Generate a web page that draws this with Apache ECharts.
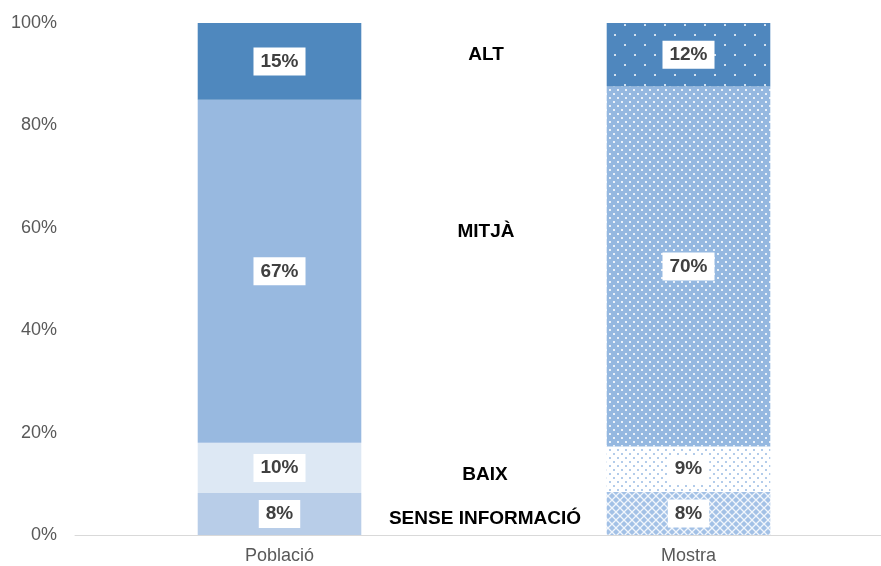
<!DOCTYPE html>
<html>
<head>
<meta charset="utf-8">
<script src="https://cdn.jsdelivr.net/npm/echarts@6/dist/echarts.min.js"></script>
<style>
  html, body { margin: 0; padding: 0; background: #fff; overflow: hidden; }
  /* plot area runs a little past the right edge, like the reference */
  #chart { width: 893px; height: 566px; }
</style>
</head>
<body>
<div id="chart"></div>
<script>
  // data (percent)
  var categories = ['Població', 'Mostra'];
  var senseInfo = [8.2, 8.4];
  var baix = [9.8, 8.9];
  var mitja = [67.0, 70.3];
  var alt = [15.0, 12.4];
  var seriesNames = ['SENSE INFORMACIÓ', 'BAIX', 'MITJÀ', 'ALT'];
  var yTicks = [0, 20, 40, 60, 80, 100];

  var FONT = 'Arial, "Liberation Sans", sans-serif';

  // small canvas tiles for the patterned "Mostra" bars
  function tile(size, bg, draw) {
    var c = document.createElement('canvas');
    c.width = size; c.height = size;
    var ctx = c.getContext('2d');
    ctx.fillStyle = bg;
    ctx.fillRect(0, 0, size, size);
    draw(ctx);
    return { image: c, repeat: 'repeat' };
  }
  function dots(color, pts, s) {
    return function (ctx) {
      ctx.fillStyle = color;
      pts.forEach(function (p) { ctx.fillRect(p[0], p[1], s, s); });
    };
  }

  var patAlt = tile(20, '#4F87BE', dots('rgba(255,255,255,0.75)', [[4, 4], [14, 14]], 2));
  var patMitja = tile(8, '#95B8E0', dots('rgba(255,255,255,0.8)', [[1, 1], [5, 5]], 2));
  var patBaix = tile(8, '#ffffff', dots('#B3CCEA', [[1, 1], [5, 5]], 2));
  var patSense = tile(8, '#A3C1E6', function (ctx) {
    ctx.strokeStyle = 'rgba(255,255,255,0.85)';
    ctx.lineWidth = 1.3;
    ctx.beginPath();
    ctx.moveTo(0, 0); ctx.lineTo(8, 8);
    ctx.moveTo(8, 0); ctx.lineTo(0, 8);
    ctx.stroke();
  });

  var solid = ['#B8CDE8', '#DDE8F4', '#98B9E0', '#4F88BE'];
  var patterns = [patSense, patBaix, patMitja, patAlt];
  var values = [senseInfo, baix, mitja, alt];

  var label = {
    show: true,
    position: 'inside',
    formatter: function (p) { return Math.round(p.value) + '%'; },
    backgroundColor: '#ffffff',
    padding: [5, 7, 4, 7],
    color: '#404040',
    fontFamily: FONT,
    fontWeight: 'bold',
    fontSize: 19
  };

  var series = values.map(function (vals, i) {
    return {
      name: seriesNames[i],
      type: 'bar',
      stack: 'total',
      barWidth: '40%',
      label: label,
      data: [
        { value: vals[0], itemStyle: { color: solid[i] } },
        { value: vals[1], itemStyle: { color: patterns[i] } }
      ]
    };
  });

  var nameLabels = [
    { text: 'ALT', x: 486, y: 55 },
    { text: 'MITJÀ', x: 486, y: 232 },
    { text: 'BAIX', x: 485, y: 475 },
    { text: 'SENSE INFORMACIÓ', x: 485, y: 519 }
  ];

  var option = {
    animation: false,
    grid: { left: 75, top: 23, width: 818, height: 512, containLabel: false },
    xAxis: {
      type: 'category',
      data: categories,
      axisLine: { lineStyle: { color: '#D9D9D9', width: 1 } },
      axisTick: { show: false },
      axisLabel: { color: '#595959', fontFamily: FONT, fontSize: 18, margin: 12 }
    },
    yAxis: {
      type: 'value',
      min: yTicks[0],
      max: yTicks[yTicks.length - 1],
      interval: 20,
      axisLine: { show: false },
      axisTick: { show: false },
      splitLine: { show: false },
      axisLabel: { color: '#595959', fontFamily: FONT, fontSize: 18, margin: 18, formatter: '{value}%' }
    },
    graphic: nameLabels.map(function (n) {
      return {
        type: 'text',
        x: n.x, y: n.y,
        style: {
          text: n.text,
          fill: '#000',
          font: 'bold 19px ' + FONT,
          align: 'center',
          verticalAlign: 'middle'
        }
      };
    }),
    series: series
  };

  var chart = echarts.init(document.getElementById('chart'));
  chart.setOption(option);
</script>
</body>
</html>
